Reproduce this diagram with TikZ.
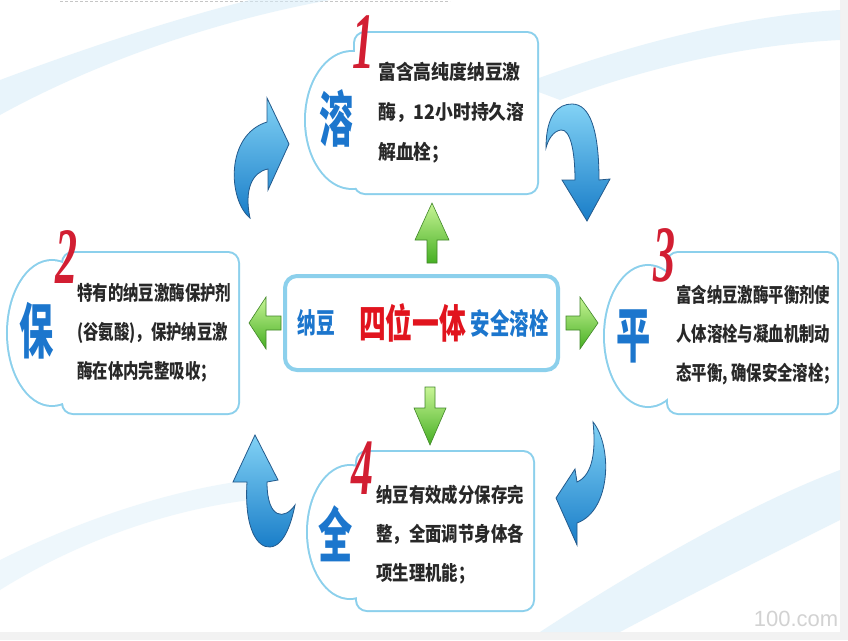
\documentclass[tikz,border=0pt]{standalone}
\usepackage{fontspec}
\usepackage{xcolor}
\usepackage{tikz}
\usetikzlibrary{positioning}

\newfontfamily\cjkA[FakeStretch=0.89]{Noto Sans CJK SC}
\newfontfamily\cjkB[FakeStretch=0.77]{Noto Sans CJK SC}
\newfontfamily\cjkC[FakeStretch=0.82]{Noto Sans CJK SC}
\newfontfamily\cjkmid[FakeStretch=0.67]{Noto Sans CJK SC}
\newfontfamily\cjkbig[FakeStretch=0.57]{Noto Sans CJK SC}
\newfontfamily\numfont[FakeStretch=0.55]{Liberation Serif}
\newfontfamily\markfont{Liberation Sans}

\definecolor{chuxanh}{RGB}{28,118,205}
\definecolor{chudo}{RGB}{225,20,30}
\definecolor{sodo}{RGB}{210,30,50}
\definecolor{chuden}{RGB}{40,40,40}
\definecolor{vienxanh}{RGB}{140,208,236}
\definecolor{xanhnhat}{RGB}{130,210,245}
\definecolor{xanhdam}{RGB}{25,125,200}
\definecolor{viendam}{RGB}{35,90,140}
\definecolor{lanhat}{RGB}{200,245,150}
\definecolor{ladam}{RGB}{70,175,35}
\definecolor{lavien}{RGB}{65,135,40}
\definecolor{nenxanh}{RGB}{214,236,248}

\begin{document}
\begin{tikzpicture}[x=1pt, y=-1pt,
    khung/.style={draw=vienxanh, line width=4pt, fill=white, rounded corners=10pt},
    bong/.style={draw=vienxanh, line width=4pt, fill=white},
    chucai/.style={font=\cjkbig\bfseries\fontsize{60}{60}\selectfont, text=chuxanh, inner sep=0pt},
    chiso/.style={font=\numfont\bfseries\itshape\fontsize{80}{80}\selectfont, text=sodo, inner sep=0pt},
    noidung/.style={anchor=west, align=left, inner sep=0pt, text=chuden},
    muiten/.style={draw=viendam, line width=0.8pt, top color=xanhnhat, bottom color=xanhdam},
    muixanh/.style={draw=lavien, line width=0.6pt, top color=lanhat, bottom color=ladam},
    nen/.style={fill=nenxanh, opacity=0.55}]
    \useasboundingbox (0,0) rectangle (848,640);

    % Nền
    \fill[gray!10] (0,0) rectangle (848,640);
    \fill[white] (0,0) rectangle (840,632);
    \draw[gray!45, dash pattern=on 3pt off 2pt] (60,1.5) -- (450,1.5);
    \fill[nen] (0,115) .. controls (100,60) and (220,20) .. (330,0) -- (250,0)
        .. controls (170,20) and (80,50) .. (0,80) -- cycle;
    \fill[nen] (520,85) .. controls (640,40) and (750,15) .. (840,10) -- (840,40)
        .. controls (740,45) and (640,70) .. (560,100) -- cycle;
    \fill[nen] (540,632) .. controls (650,560) and (760,500) .. (840,470) -- (840,520)
        .. controls (760,560) and (680,600) .. (620,632) -- cycle;
    \fill[nen, opacity=0.4] (0,560) .. controls (80,520) and (170,490) .. (250,480) -- (250,500)
        .. controls (170,510) and (80,540) .. (0,590) -- cycle;

    % Các hộp
    \foreach \ex/\ey/\rx/\ry/\ax/\ay/\bx/\by in
      {352/120/46/68/355/33/537/193, 52/333/44/72/63/253/238/413,
       648/336/43/70/668/253/837/413, 350/532/42/66/357/452/533/610}{
        \draw[bong] (\ex,\ey) ellipse [x radius=\rx pt, y radius=\ry pt];
        \draw[khung] (\ax,\ay) rectangle (\bx,\by);
    }
    \foreach \ex/\ey/\rx/\ry/\ax/\ay/\bx/\by in
      {352/120/46/68/355/33/537/193, 52/333/44/72/63/253/238/413,
       648/336/43/70/668/253/837/413, 350/532/42/66/357/452/533/610}{
        \fill[white] (\ex,\ey) ellipse [x radius=\rx pt, y radius=\ry pt];
        \fill[white, rounded corners=10pt] (\ax,\ay) rectangle (\bx,\by);
    }
    \draw[khung, rounded corners=12pt] (285,276) rectangle (558,370);

    % Mũi tên xanh lá
    \foreach \tx/\ty/\goc/\hl/\hw/\sw/\sl in
      {432/203/0/37/17/5/23, 430/445/180/37/16/5/21,
       249/323/90/17/26/7/15, 598/323/-90/18/26/7/14}{
        \begin{scope}[shift={(\tx,\ty)}, rotate=\goc]
            \draw[muixanh] (0,0) -- (\hw,\hl) -- (\sw,\hl) -- (\sw,\hl+\sl)
                -- (-\sw,\hl+\sl) -- (-\sw,\hl) -- (-\hw,\hl) -- cycle;
        \end{scope}
    }

    % Mũi tên cong
    \draw[muiten] (250,218) .. controls (228,200) and (225,135) .. (267,122)
        -- (267,98) -- (289,144) -- (268,190) -- (268,169)
        .. controls (252,172) and (244,190) .. (250,218) -- cycle;
    \draw[muiten] (546,148) .. controls (546,115) and (558,104) .. (572,104)
        .. controls (590,104) and (599,130) .. (599,180)
        -- (610,179) -- (587,221) -- (562,180) -- (575,180)
        .. controls (575,150) and (570,129) .. (561,130)
        .. controls (553,131) and (548,140) .. (546,148) -- cycle;
    \draw[muiten] (593,422) .. controls (612,445) and (612,510) .. (577,523)
        -- (577,545) -- (556,498) -- (575,469) -- (577,482)
        .. controls (593,475) and (596,450) .. (593,422) -- cycle;
    \draw[muiten] (247,482) .. controls (244,530) and (258,548) .. (270,547)
        .. controls (285,546) and (292,520) .. (295,505)
        .. controls (285,520) and (267,520) .. (267,482)
        -- (278,480) -- (255,435) -- (233,482) -- cycle;

    % Chữ lớn và số
    \node[chucai] (chuRong) at (337,118) {溶};
    \node[chucai] (chuBao) at (37,331) {保};
    \node[chucai] (chuBinh) at (634,336) {平};
    \node[chucai] (chuToan) at (336,534) {全};
    \node[chiso] (so1) at (363,42) {1};
    \node[chiso] (so2) at (66,257) {2};
    \node[chiso] (so3) at (664,255) {3};
    \node[chiso] (so4) at (362,468) {4};

    % Nội dung
    \node[noidung, font=\cjkA\bfseries\fontsize{20}{40}\selectfont] (ndRong) at (378,113)
        {富含高纯度纳豆激\\酶，12小时持久溶\\解血栓；};
    \node[noidung, font=\cjkB\bfseries\fontsize{20}{39}\selectfont] (ndBao) at (77,333)
        {特有的纳豆激酶保护剂\\(谷氨酸)，保护纳豆激\\酶在体内完整吸收；};
    \node[noidung, font=\cjkB\bfseries\fontsize{20}{39}\selectfont] (ndBinh) at (676,335)
        {富含纳豆激酶平衡剂使\\人体溶栓与凝血机制动\\态平衡, 确保安全溶栓；};
    \node[noidung, font=\cjkC\bfseries\fontsize{20}{39}\selectfont] (ndToan) at (376,535)
        {纳豆有效成分保存完\\整，全面调节身体各\\项生理机能；};

    % Khẩu hiệu giữa
    \node[font=\cjkmid\bfseries\fontsize{28}{28}\selectfont, text=chuxanh, inner sep=0pt]
        (giua1) at (316,323) {纳豆};
    \node[font=\cjkmid\bfseries\fontsize{40}{40}\selectfont, text=chudo, inner sep=0pt,
        right=24pt of giua1] (giua2) {四位一体};
    \node[font=\cjkmid\bfseries\fontsize{29}{29}\selectfont, text=chuxanh, inner sep=0pt,
        right=4pt of giua2] (giua3) {安全溶栓};

    \node[font=\markfont\fontsize{22}{22}\selectfont, text=gray!35] (dauMoc) at (796,619) {100.com};
\end{tikzpicture}
\end{document}
